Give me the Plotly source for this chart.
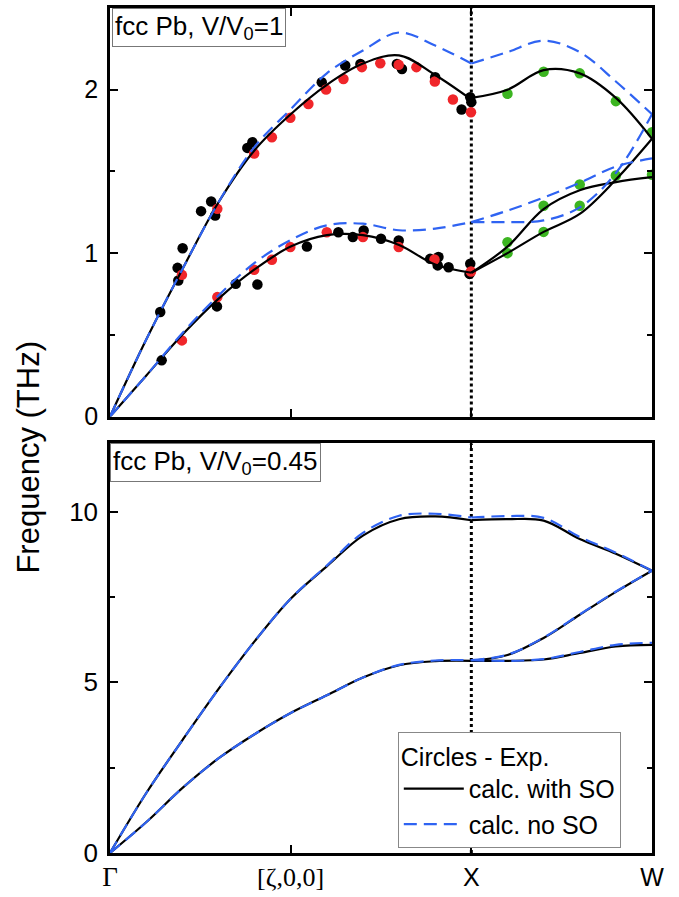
import plotly.graph_objects as go

# ---------------- data ----------------
x_gx = [0.0, 0.1, 0.2, 0.3, 0.4, 0.5, 0.6, 0.7, 0.8, 0.9, 1.0]
x_xw = [1.0, 1.1, 1.2, 1.3, 1.4, 1.5]

# V/V0 = 1 (top panel), THz
so1_gx_up = [0, 0.47, 0.90, 1.31, 1.63, 1.85, 2.03, 2.16, 2.21, 2.09, 1.94]
so1_gx_lo = [0, 0.25, 0.50, 0.72, 0.90, 1.04, 1.11, 1.11, 1.05, 0.93, 0.88]
no1_gx_up = [0, 0.47, 0.90, 1.31, 1.65, 1.88, 2.10, 2.24, 2.35, 2.27, 2.16]
no1_gx_lo = [0, 0.25, 0.51, 0.74, 0.94, 1.08, 1.17, 1.18, 1.14, 1.15, 1.19]
so1_xw_up = [1.95, 2.00, 2.12, 2.10, 1.95, 1.70]
so1_xw_a = [0.88, 1.04, 1.27, 1.385, 1.435, 1.465]
so1_xw_b = [0.88, 1.00, 1.13, 1.24, 1.45, 1.70]
no1_xw_up = [2.16, 2.23, 2.30, 2.23, 2.05, 1.85]
no1_xw_c = [1.19, 1.19, 1.20, 1.28, 1.49, 1.85]
no1_xw_d = [1.19, 1.26, 1.34, 1.43, 1.53, 1.58]

exp_black_x = [0.139, 0.143, 0.189, 0.187, 0.201, 0.252, 0.280, 0.291, 0.296, 0.348,
               0.380, 0.394, 0.408, 0.545, 0.586, 0.632, 0.651, 0.693, 0.794, 0.808,
               0.900, 0.997, 1.000, 0.973, 0.672, 0.702, 0.750, 0.799, 0.886, 0.909,
               0.907, 0.937, 0.997, 0.995]
exp_black_y = [0.64, 0.344, 0.833, 0.91, 1.03, 1.257, 1.316, 1.23, 0.674, 0.812,
               1.644, 1.679, 0.808, 1.04, 2.046, 1.128, 2.148, 2.158, 2.158, 2.127,
               2.076, 1.954, 1.924, 1.879, 1.098, 1.139, 1.088, 1.078, 0.965, 0.976,
               0.925, 0.914, 0.935, 0.873]
exp_red_x = [0.199, 0.199, 0.297, 0.297, 0.399, 0.399, 0.448, 0.448, 0.499, 0.499,
             0.549, 0.598, 0.600, 0.646, 0.697, 0.748, 0.799, 0.848, 0.899, 0.949,
             0.999, 0.700, 0.799, 0.898, 0.999]
exp_red_y = [0.867, 0.466, 1.271, 0.731, 1.61, 0.898, 1.709, 0.959, 1.828, 1.037,
             1.913, 2.001, 1.128, 2.066, 2.138, 2.162, 2.152, 2.138, 2.05, 1.94,
             1.862, 1.098, 1.037, 0.961, 0.888]
exp_green_x = [1.10, 1.20, 1.30, 1.40, 1.50, 1.10, 1.10, 1.20, 1.20, 1.30, 1.30, 1.40, 1.50]
exp_green_y = [1.975, 2.11, 2.10, 1.93, 1.74, 1.067, 1.00, 1.29, 1.13, 1.42, 1.29, 1.475, 1.48]

# V/V0 = 0.45 (bottom panel), THz
so2_gx_up = [0, 1.75, 3.30, 4.80, 6.20, 7.45, 8.40, 9.30, 9.78, 9.86, 9.75]
so2_gx_lo = [0, 0.90, 1.90, 2.77, 3.48, 4.10, 4.62, 5.14, 5.50, 5.62, 5.63]
no2_gx_up = [0, 1.75, 3.30, 4.80, 6.20, 7.45, 8.42, 9.38, 9.88, 9.94, 9.83]
no2_gx_lo = [0, 0.90, 1.90, 2.77, 3.48, 4.10, 4.62, 5.14, 5.51, 5.64, 5.65]
so2_xw_up = [9.75, 9.78, 9.74, 9.20, 8.77, 8.27]
so2_xw_mid = [5.63, 5.80, 6.30, 6.98, 7.65, 8.27]
so2_xw_lo = [5.63, 5.63, 5.67, 5.86, 6.05, 6.10]
no2_xw_up = [9.83, 9.87, 9.82, 9.26, 8.80, 8.27]
no2_xw_mid = [5.65, 5.81, 6.31, 6.99, 7.66, 8.27]
no2_xw_lo = [5.65, 5.63, 5.68, 5.89, 6.10, 6.16]

tick_vals = [0, 0.5, 1.0, 1.5]
tick_text = ['<span style="font-family:Liberation Serif;font-size:27px">Γ</span>',
             '<span style="font-family:Liberation Serif;font-size:26px">[ζ,0,0]</span>',
             'X', 'W']

# ---------------- styles ----------------
BLACK = "#000000"
BLUE = "#2f63f2"
RED = "#f0262a"
GREEN = "#3cb521"
SANS = "Liberation Sans, Arial, sans-serif"

fig = go.Figure()

def dots(xs, ys, color, xa, ya):
    fig.add_trace(go.Scatter(x=xs, y=ys, mode="markers", xaxis=xa, yaxis=ya,
                             marker=dict(size=10.5, color=color, line=dict(width=0)),
                             showlegend=False, hoverinfo="skip"))

def curve(xs, ys, xa, ya, so, show=False):
    if so:
        line = dict(color=BLACK, width=2.2, shape="spline")
        name = "calc. with SO"
    else:
        line = dict(color=BLUE, width=2.2, shape="spline", dash="13px,7px")
        name = "calc. no SO"
    fig.add_trace(go.Scatter(x=xs, y=ys, mode="lines", xaxis=xa, yaxis=ya,
                             line=line, name=name, showlegend=show,
                             hoverinfo="skip"))

# top panel
dots(exp_black_x, exp_black_y, BLACK, "x", "y")
dots(exp_red_x, exp_red_y, RED, "x", "y")
dots(exp_green_x, exp_green_y, GREEN, "x", "y")
for ys in [so1_gx_up, so1_gx_lo]:
    curve(x_gx, ys, "x", "y", True)
for ys in [so1_xw_up, so1_xw_a, so1_xw_b]:
    curve(x_xw, ys, "x", "y", True)
for ys in [no1_gx_up, no1_gx_lo]:
    curve(x_gx, ys, "x", "y", False)
for ys in [no1_xw_up, no1_xw_c, no1_xw_d]:
    curve(x_xw, ys, "x", "y", False)

# bottom panel
curve(x_gx, so2_gx_up, "x2", "y2", True, show=True)
curve(x_gx, so2_gx_lo, "x2", "y2", True)
for ys in [so2_xw_up, so2_xw_mid, so2_xw_lo]:
    curve(x_xw, ys, "x2", "y2", True)
curve(x_gx, no2_gx_up, "x2", "y2", False, show=True)
curve(x_gx, no2_gx_lo, "x2", "y2", False)
for ys in [no2_xw_up, no2_xw_mid, no2_xw_lo]:
    curve(x_xw, ys, "x2", "y2", False)

axis_common = dict(showline=True, linecolor="black", linewidth=2.5, mirror="ticks",
                   ticks="inside", ticklen=8, tickwidth=2, tickcolor="black",
                   showgrid=False, zeroline=False)

top_dom = [0.5165, 1.0]
bot_dom = [0.0, 0.4847]

fig.update_layout(
    width=679, height=897,
    margin=dict(l=110, r=27, t=5, b=44),
    paper_bgcolor="white", plot_bgcolor="white",
    font=dict(family=SANS, color="black"),
    xaxis=dict(domain=[0, 1], anchor="y", range=[0, 1.5], tickvals=tick_vals,
               showticklabels=False, **axis_common),
    yaxis=dict(domain=top_dom, anchor="x", range=[0, 2.5], tickvals=[0, 1, 2],
               tickfont=dict(size=25), ticklabelstandoff=4,
               minor=dict(ticks="inside", ticklen=5, tickwidth=2, tickcolor="black",
                          tickvals=[0.5, 1.5]),
               **axis_common),
    xaxis2=dict(domain=[0, 1], anchor="y2", range=[0, 1.5], tickvals=tick_vals,
                ticktext=tick_text, tickfont=dict(size=25), **axis_common),
    yaxis2=dict(domain=bot_dom, anchor="x2", range=[0, 12], tickvals=[0, 5, 10],
                tickfont=dict(size=26), ticklabelstandoff=4,
                minor=dict(ticks="inside", ticklen=5, tickwidth=2, tickcolor="black",
                           tickvals=[2.5, 7.5]),
                **axis_common),
    legend=dict(x=0.531, y=0.1427, xanchor="left", yanchor="top",
                bgcolor="white", bordercolor="#888888", borderwidth=1,
                font=dict(size=25, family=SANS),
                title=dict(text="Circles - Exp.", font=dict(size=25, family=SANS)),
                itemwidth=60, tracegroupgap=0),
    showlegend=True,
)

# dotted vertical line at X in both panels
for ya in ["y", "y2"]:
    fig.add_shape(type="line", xref="x" if ya == "y" else "x2", yref=ya + " domain",
                  x0=1.0, x1=1.0, y0=0, y1=1, layer="below",
                  line=dict(color="black", width=3, dash="dot"))

# panel labels
fig.add_annotation(text="fcc Pb, V/V<sub>0</sub>=1", xref="paper", yref="paper",
                   x=0.004, y=1.0, xanchor="left", yanchor="top", showarrow=False,
                   font=dict(size=26, family=SANS), bgcolor="white",
                   bordercolor="#777777", borderwidth=1, borderpad=2)
fig.add_annotation(text="fcc Pb, V/V<sub>0</sub>=0.45", xref="paper", yref="paper",
                   x=0.0, y=bot_dom[1], xanchor="left", yanchor="top", showarrow=False,
                   font=dict(size=26, family=SANS), bgcolor="white",
                   bordercolor="#777777", borderwidth=1, borderpad=2)

# y axis title
fig.add_annotation(text="Frequency (THz)", xref="paper", yref="paper",
                   x=-0.1494, y=0.468, xanchor="center", yanchor="middle",
                   textangle=-90, showarrow=False, font=dict(size=31, family=SANS))

fig.write_html("out.html")
